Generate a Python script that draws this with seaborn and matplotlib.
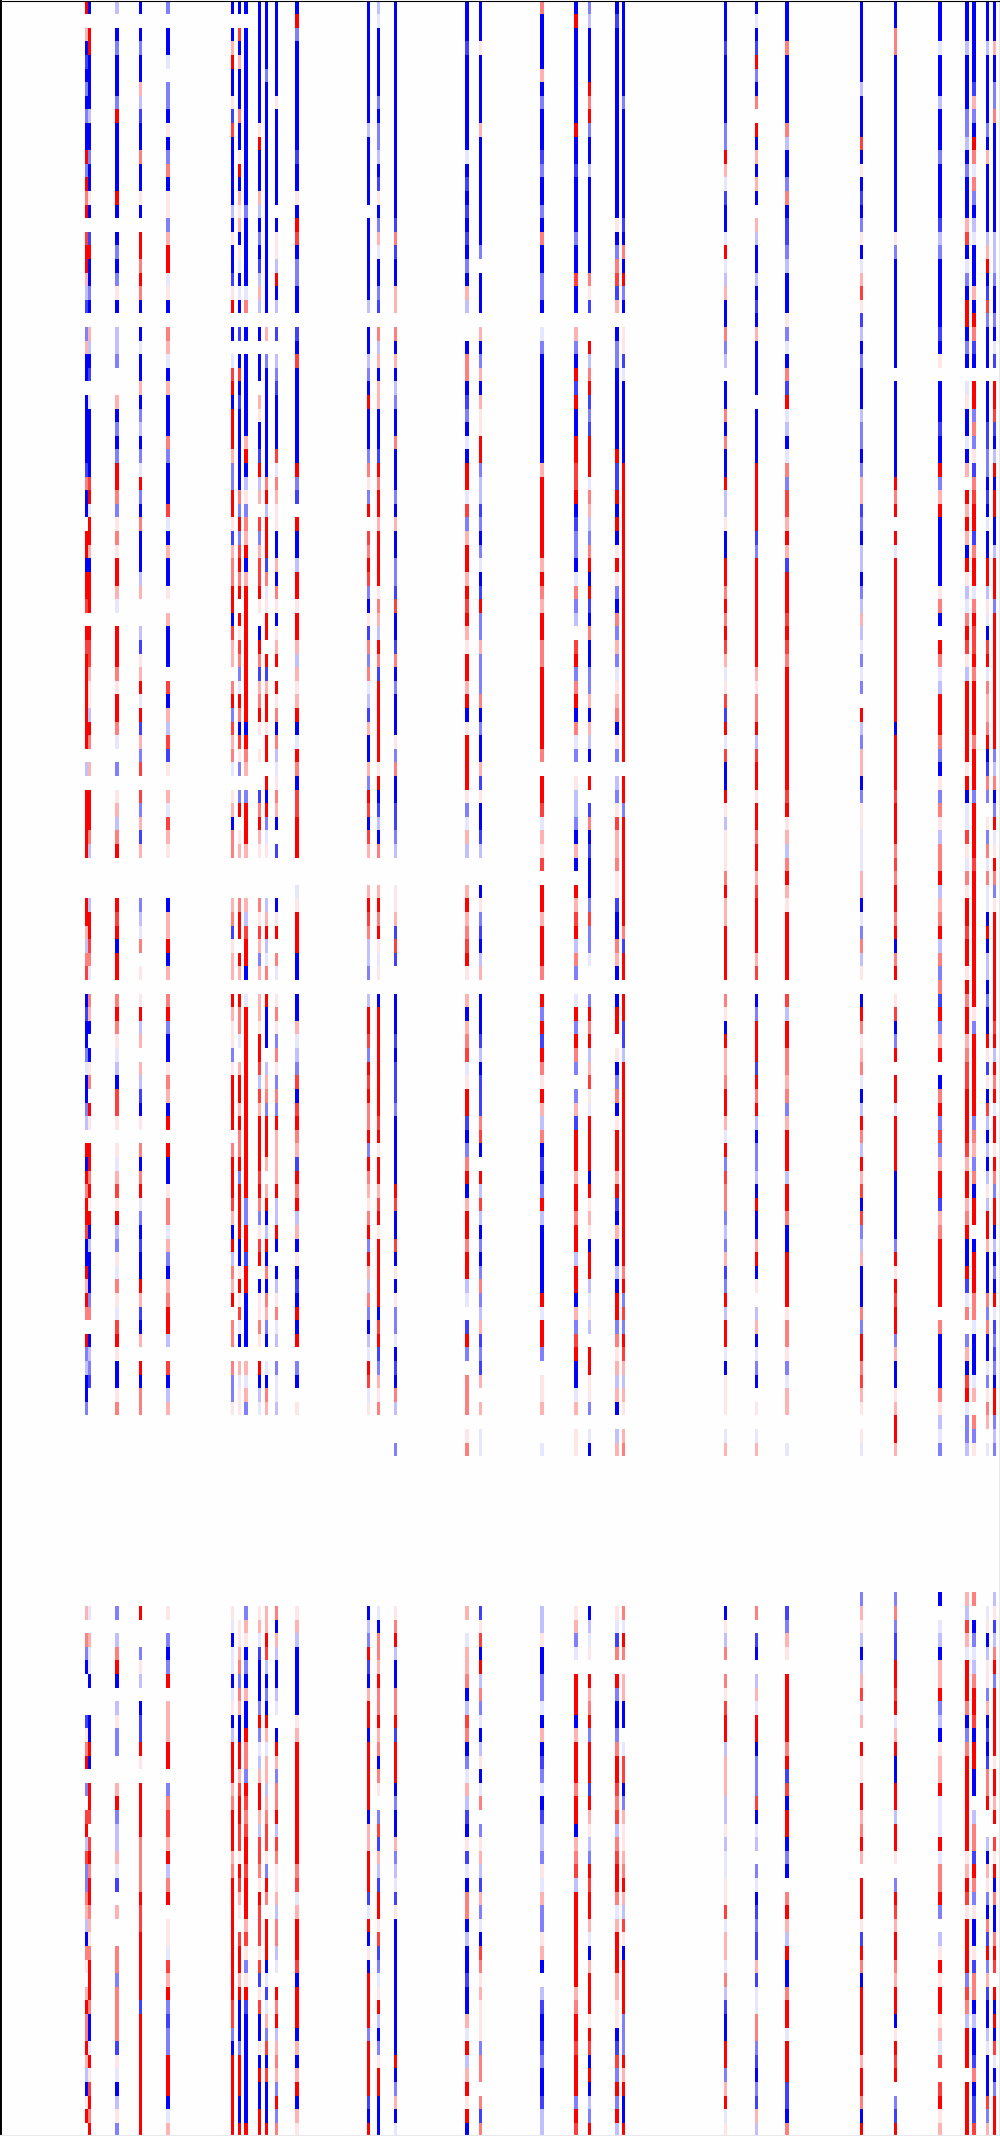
import numpy as np
import pandas as pd
import seaborn as sns
import matplotlib.pyplot as plt

# cell codes: upper case blue, lower case red, a/A strongest
levels = {'A': -1.0, 'B': -0.75, 'C': -0.5, 'D': -0.25, 'E': -0.1, '.': 0.0,
          'e': 0.1, 'd': 0.3, 'c': 0.5, 'b': 0.75, 'a': 1.0}

n_rows = 157
n_cols = 294

# each column: rows 0-52, rows 53-104, rows 105/106/117, rows 118-156
c025 = ["a.dABACACAAaCaca.baadDB.CdAA.AAAAABcAA.aaAaab.abaaaaa", "aa.D.aaaaa...aadDcb.ABAACEAACD.aAacaabAAadac.aCDAAC.", "...", "d.cCA...Beca.C.baDbCCcdDAce.daccadDAea."]
c026 = ["A.aaAAAADAACAAeA.BaAACA.dDAB.EAAAAAbaEaadAaaa.abbdeeD", "ac.d.aaacD...DaabcE.cdA.Aec.ae.aacaeaADAAACc.ADCB...", "...", "E.dEEA..AAaA.aab.bacaacdecaaacAAEaebaca"]
c034 = ["D.ACAAACaAAAAAaA.ACACeA.DDC..dACACaacCeceaadE.aaaceaa", "cE.C.edDca...abaAaa.caceEDAbbe.eEdbeaDCeEceEbaeAAec.", "...", "C.DcaA.DeCC..daCDDdEB.d..ccCccccBeEADeC"]
c041 = ["A.ACAAdDBAAcAAeA.aacacA.AEAAdACDACEaCAcAAADd..DBedaEa", "BdCb.bCdBd...CDEc.e.eaDd.dDBAe.cAcaECABAAadBAd.aAcc.", "...", "a..CeD.ABBae.aaaaccccabbaaaaaBaaaaaaaaa"]
c049 = ["C.AAE.CCAeACcAeeCdaaEeA.cdEAdAAAcCAAAbEAdAAe.dAAA.bAd", "DbBe.dEbde...AddaAd.caCAAecdAa.aAAeccEdCAdcaaD.bADd.", "...", "e.CACa.dddaa.CcbbdaDca.eeEbdaCBCCaaaAEd"]
c068 = ["A.AdaAAeBbAAAAADAeAABea.A.EbaAaaadCCaaeBdccaaAbdd.caC", "bdcE.edAcc...dcBedd.adeeCeaaaa.caaabdAaDcda.cc.cCCe.", "...", "eEAEEAEeADaaadcaaadcaaaaaaaaabbCAaaaaaa"]
c070 = ["A.bAdAAAcAAeaAdedAeEAEA.B.AbABAAAAAAcCaCbaca.aebcCEac", "AbeC.Ca.ed...caa.ad.accE.daadaccaCaaaaAAeaebEA.dEee.", "...", ".eedcCcdAAaadbaabbeabde.baadaAAACaaaAAa"]
c072 = ["A.AAAAAAAAAAAAACAAAAAEc.A.AAAAAAdaADeCcdaAdaaaaaaaaaa", "Aacd.Caaad...dDbaaA.EaaaaaaaaaaaaaaCCaaBaaAAAA.dEdC.", "...", "CdeACAdAAaccCabcbaabaaadbeCeaBAAAAAAAAa"]
c076 = ["AAAAAAAAAeaAAAdDACABDdD.A.AA.deAABaDd.bCdbbae.AacBdca", "e.e..Bcade...cebdCd.ddeaabDbdaaaabacCeba.Aeece.aADE.", "...", "edEBAAACaCEDdaadDbbceabbbebBebAAeAaAAaa"]
c078 = ["AAAAACAAAAAAAAAAAAAAAAA.d.CAAAAAAAAcaDaaaBcEeaa.aBdaa", "eaa.aAaCEe...DdaDEc.aAAA.DdcCaaad.daADaAcAcdCA.EAcd.", "...", "ddabDACAadEddDdcbbeCac.aaaAEBEdCbAbAAAa"]
c081 = ["AAAAAAAeAAAAAAA.AeeDaAD.B.DCBAAAAbEcdeeAAdAceAeda.aec", "AcDEecdA.B...Aea.cE.eceCceCcCaddddaDDaA.ADecED.CEED.", "...", "cAdDAADE.AadCccaDbceedDccDE.acaDdcdCaCc"]
c087 = ["AaCAAAAAAAABAAeAabACCAA.BAbAAAAAAAaCB.aAADaaeaadDdeda", "AEacAbbaaa..EeaaaAA.AAdEDCbAbacdBacaDdAeABAaAa.CA.e.", "...", "edDAAAAAedaaaaaaaaacbEdaaabAaaaAdAdaAde"]
c108 = ["AAAAAAAAADAAAAA.AAAAAAD.AADCAaAAACceCa.bcabCAeBcCcEDB", "dAAdCabAbd..dabcDDC.DaabCabaccaCacdecaCadDcCADEabEe.", "...", "ADCaBAdaaAaaaaaAddaaaBEaAeAaaaaCaaaaBAa"]
c111 = ["DEAAAAACACCDABeACdEAACB.cDdAddAAABacaadaaaaecdDacBaaa", "aaaeaABDAc..dacaeEe.AaaaaaaaabaeaadbaeaaaaaAbaBCdec.", "...", "EAccdaccadcAce.CbBdDBaaebBCEeaDACeaaAAA"]
c116 = ["AAAAAAAAAAAAAAAABcBAAdd.cAdADCAAcAAACAdAACCBbAABcACAA", "AeCcAABBCD..eedBbB..AAABABBBCAAAAAabAAbAeAeCCEABAcD.", ".C.", "ecaDAAccaBaaaACAAdCDEBeAAAAAAAAAAaACdAE"]
c137 = ["AAABAAAAAAAEABABABACAdD..AccABCAEAaaEbCdaadabadeaadaA", "eaaaaeCEdD..dadcbae.dAdcbEeaaBACcaAdaacaaDE.BaC.ccc.", "ec.", "d.EddcADbcACEdDBAeBEAccADAABAAdEaDdaeaA"]
c141 = ["AAAeAAAAAdAAAAAAAAC.AAA.dACdAdeeaaCDDBCACEABaCCdCCCcA", "CAAdBeAABD..AeCBADd.AAABDABBBcbA.aDbDACACcCDdBCBd.d.", "EE.", "BebAaDcCEADeAEc.CedDBdCEAbcedeeeCcc.cBc"]
c159 = ["cAAAAdACAAABCAACAcAACCA.ECAAAAAAAAdaaaaaadacdaaccaaaa", "aac.aabEdeb.aadaaac.aCaBaceadDcABACaDAAAAAaEaaC.eed.", ".E.", "DDeAACCEAdABCEABDDCeEdCCedA.DBAABCAABDD"]
c169 = ["AaAAAAAAAaAABAAAACAAbAA.dCAaBaAAaabbaABCCAEcCD.baCcaA", "cEC.eDDCAdA.adbaDcC.EaCacC.CdBaaadaacaaDaaAdCbaAAEd.", "ee.", "edCE.aaaAdaaacaaAdcbDaaaaaaadcaabaaaCab"]
c173 = ["CDAAAAacaCAADAAAAAAAceB..aDcaBCBaaaEcdDCcaAaBAcAACCdA", "dDA.a.BcABAAACbCCE..CacaDdbeEaaaaAaedeAaaDEeD.aaeeC.", "EA.", "ADEe.adcaCaaaBadeDCabaadEAdaaaeabAaADCa"]
c181 = ["ABAAAAAAAAAAAAAAeACcbBd.ACCAAAAAAaBBaAaAeaeCAcCdCEedc", "AeC.DCebddceeBAAcdA.Aaa.eACcAeaaadaBAdAADAaaCcedDdA.", "Dd.", "eEBc.aCAACcaabcbDcbaacEdaaaddeeABbCaCaD"]
c183 = ["AAAAAAACAAAAAAAABAcAaCA.eeBEAAAAAAaaaaaaaaaaaaaaaaaaa", "aaa.aaCaaaaaaaacBaa.aaBBDaaaaaaaaaaaaaaacaCbCabdDde.", "dc.", "cEac.ddAA.EbbACdeedcadDbeAaaaaCCCadaAAa"]
c213 = ["AAABAAAAACCadEBAAEaEDdAAcCD.AAcAcAAaDDeAAaacacabdEebB", "aEbAAaeDeeecaddaaaa.ceAaddcaadEaCbccCDCdBCaDaaEAeee.", "Ed.", "AeDc.cebaaDdddDDeDEEeebEddEcDBAAaaCdaEe"]
c222 = ["AEABaCAc.aAdAdA.dDAADABAdAAAA.AAAAaaaaaBCaaaaaaaadecc", "aDbaaeaacaadbaaaadb.ACaaaBacaDACCDAaAAdaAe.DdAECA.e.", "Ed.", "c.BA.DdEaaACCCbAED.CEABCBBdBEEccCBACBdD"]
c231 = ["AAAcAAAAAcDAACcABBCDAAAeCEAcBaEDAEcCbbdadBaaababcaaaa", "aaaaabaedDcadeaaaaa.bDaaccdcCdaaaDaacAAaaaaecceCEdd.", ".E.", "BCde.aaaaacaBbAaaACA.cadDaAAcaaEaaaBBAc"]
c253 = ["AAAAAADAAAbAeABACeAEdbeBDACAAADCCACddBCADDACDdDECEC.a", "DCddACeeEEEddAECcDe.AacedcEADacDadbAbCDdAAAcCaacbde.", "eEC", "deDADdbEd.aeeaadcad.aaaeBacAaaaaadaacAa"]
c263 = ["AAccAAAAAAAAAAAAAeCAAAAAAAA.AAAAAAAaca.aEaaaaaaaaaaaa", "AaaaabaaacbcaacaAca.ebACa.aaEaaaaAAAAACaeabaaCdAAeda", "adC", "cCBBaabaEdaAAaaDaae.CabdaacdaaAeaba.CBa"]
c276 = ["AAAEAAADAAACAAAABDCAAAAABAe.AAABAAaCdaAAAAAecA.acEDaa", "acCAeCceDccaDdcaDcCcBaCda.AcaCbCdaaBdcaaaaa.cAAAAceD", "ECA", ".EDAddaCDAeddaEEEaEccaC.DeaeaaedEb.baed"]
c284 = ["AAADAAAACCDACAAAdbAECAaaACA.EeAAEAd.adadAaeDEcabeDaaa", "aaaeaAEEbeEceaabaaeacaadcbbaaaabdaadcaAAaBEc.CdAbaEC", "CDd", "DbdEaaacACcaaaaaaaedabeaaaaCbcDaaa.aaaa"]
c286 = ["AAAAAABdCAacEcCADEAAAdAacBA.aaCcCeBcbaaBcaaEcabbacaaa", "acaaaCaaaabaaaaaaaaaaeCaaaaaaCcdCcAaa.AaaaccEAAAEd.c", "Cec", ".ACEDcaabAaaAA.DccBacCeAAeBccADAABcABBb"]
c290 = ["AAADAAAAACAdAAAAADdaABbCAAA.AAABBCCABAEAAaaDeEAbaEcdd", "caABcC.eCcEcEEAaADDACAAaeBeAbDADADeDaadAAAcCcAAECecd", ".E.", "EeADeeCdABABcca..DAdeCAcBaCdBAADEAAAbCd"]
c292 = ["AAAdAACCcAAAAAAAADDDCAACAEB.aabBADaAaaAADaaaCaaaaaaaa", "aaCDcACaEeacCeaaaaaaaabaDacaEaaeacCaaADACAaEBCBCAaaC", "DCD", "eBDcaCaaaaaeaada.beaAcAAcab.aAaAbEACaaa"]

column_ids = [25, 26, 34, 41, 49, 68, 70, 72, 76, 78, 81, 87, 108, 111, 116, 137, 141, 159,
              169, 173, 181, 183, 213, 222, 231, 253, 263, 276, 284, 286, 290, 292]
column_codes = [c025, c026, c034, c041, c049, c068, c070, c072, c076, c078, c081, c087, c108, c111, c116, c137, c141, c159,
                c169, c173, c181, c183, c213, c222, c231, c253, c263, c276, c284, c286, c290, c292]


def decode(parts):
    top = parts[0].ljust(53, '.')[:53]
    mid = parts[1].ljust(52, '.')[:52]
    gap = parts[2][:2] + '.' * 10 + parts[2][2]
    low = parts[3].ljust(39, '.')[:39]
    return [levels[ch] for ch in top + mid + gap + low]


df = pd.DataFrame(np.zeros((n_rows, n_cols)))
for cid, parts in zip(column_ids, column_codes):
    df[cid] = decode(parts)

fig = plt.figure(figsize=(10, 21.36), dpi=100)
# half a pixel left and down, so the cell edges land on the same pixels
ax = fig.add_axes([-0.5 / 1000, -0.5 / 2136, 1, 1])
sns.heatmap(df, cmap='bwr', vmin=-1, vmax=1, cbar=False, xticklabels=False, yticklabels=False, ax=ax)

# the picture is cut at the axes frame
for side, col, lw in [('top', 'black', 0.8), ('left', 'black', 2.1), ('right', '#e8e8e8', 2.1), ('bottom', '#e8e8e8', 3.0)]:
    ax.spines[side].set_visible(True)
    ax.spines[side].set_color(col)
    ax.spines[side].set_linewidth(lw)

fig.savefig('out.png', dpi=100)
